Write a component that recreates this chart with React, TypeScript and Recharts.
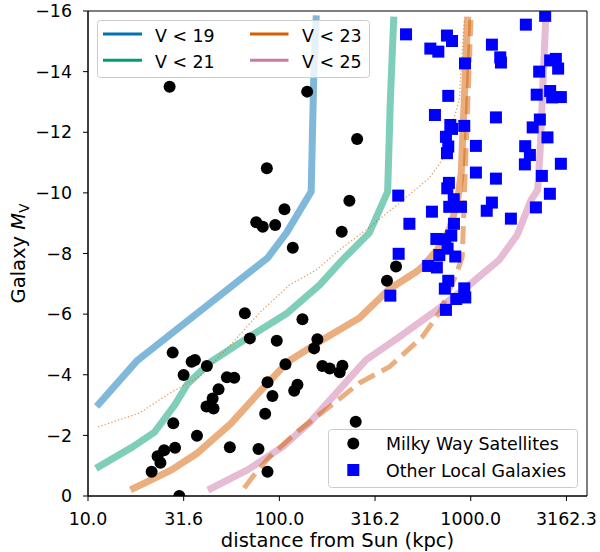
import React from 'react';
import { ComposedChart, Line, Scatter, XAxis, YAxis, ReferenceArea } from 'recharts';

const FONT = '"DejaVu Sans", sans-serif';
const FS = 17.4;
const LFS = 19.5;

// x ticks (kpc, log scale) and y ticks (M_V)
const xTicks = [10, 31.6228, 100, 316.228, 1000, 3162.28];
const yTicks = [0, -2, -4, -6, -8, -10, -12, -14, -16];

// detection limit curves: [distance kpc, M_V]
const v19: [number, number][] = [
  [11.41, -3.04], [17.96, -4.45], [72.4, -7.46], [86.7, -7.85], [108.9, -8.68],
  [146.6, -10.04], [151.2, -13.83], [155.6, -15.74],
];
const v21: [number, number][] = [
  [11.41, -0.97], [17.12, -1.62], [22.29, -2.11], [28.35, -3.0], [33.14, -3.7],
  [43.7, -4.42], [65.7, -5.15], [110.2, -6.04], [162.0, -6.96], [213.5, -7.79],
  [295.3, -8.68], [367.9, -10.04], [380.1, -13.07], [395.5, -15.7],
];
const v23: [number, number][] = [
  [17.32, -0.25], [27.35, -0.86], [37.36, -1.42], [55.57, -2.38], [80.6, -3.5],
  [110.2, -4.42], [163.9, -5.11], [261.9, -5.87], [375.5, -6.83], [517.6, -7.39],
  [558.4, -7.56], [668.7, -8.12], [772.2, -8.78], [850.3, -9.67], [892.1, -10.66],
  [962.3, -15.7],
];
const v23Dashed: [number, number][] = [
  [65.5, -0.26], [72.4, -0.63], [88.8, -1.29], [127.3, -2.18], [182.6, -2.94],
  [261.9, -3.73], [375.5, -4.26], [558.4, -5.25], [684.9, -6.04], [837.3, -7.29],
  [902.9, -7.89], [936.1, -10.76], [1002, -15.7],
];
const v23Dotted: [number, number][] = [
  [11.28, -2.28], [18.61, -2.74], [26.69, -3.39], [38.28, -3.94], [54.9, -4.95],
  [78.7, -6.04], [112.9, -6.96], [156.2, -7.46], [206.0, -8.12], [283.8, -8.78],
  [423.5, -9.66], [607.3, -10.49], [709.9, -11.09], [871, -13.07], [925, -15.7],
];
const v25: [number, number][] = [
  [43.95, -0.25], [68.2, -0.86], [103.8, -1.62], [143.6, -2.41], [198.6, -3.4],
  [283.8, -4.49], [423.5, -5.25], [684.9, -6.2], [982, -6.96], [1408, -7.79],
  [1748, -8.61], [2069, -9.77], [2237, -10.1], [2305, -11.42], [2462, -15.7],
];

// Milky Way satellites: [distance kpc, M_V]
const milkyWay: [number, number][] = [
  [66.0, -6.03], [132.0, -5.83], [70.1, -5.2], [96.9, -5.12], [158.0, -5.17], [151.9, -4.87],
  [27.7, -4.73], [34.8, -4.43], [36.2, -4.49], [41.8, -4.29], [31.6, -3.99], [107.6, -4.35],
  [167.8, -4.29], [183.2, -4.21], [206.6, -4.08], [213.5, -4.3], [53.2, -3.92], [58.1, -3.9],
  [86.7, -3.75], [48.1, -3.52], [92.0, -3.3], [124.3, -3.67], [119.5, -3.47], [44.8, -3.22],
  [41.6, -2.95], [45.3, -2.89], [84.3, -2.71], [27.9, -2.4], [250.5, -2.45], [37.1, -1.99],
  [25.0, -1.51], [28.5, -1.59], [23.1, -1.31], [23.9, -1.1], [55.1, -1.61], [77.8, -1.55],
  [21.5, -0.8], [86.7, -0.8], [30.0, 0.0],
  [26.7, -13.5], [139.7, -13.34], [254.8, -11.78], [86.0, -10.81], [232.2, -9.74],
  [106.3, -9.46], [75.7, -9.03], [81.9, -8.88], [95.1, -8.94], [211.7, -8.72],
  [117.5, -8.19], [407, -7.57], [365, -7.1],
];

// Other Local Group galaxies: [distance kpc, M_V]
const otherGalaxies: [number, number][] = [
  [459, -15.23], [751, -15.19], [798, -15.01], [615, -14.76], [677, -14.66], [933, -14.27],
  [1290, -14.89], [1426, -14.47], [1438, -14.3], [1941, -15.55], [2448, -15.84], [2600, -14.37],
  [2784, -14.42], [2862, -14.1], [2278, -14.0], [763, -13.2], [2211, -13.24], [2600, -13.36],
  [2663, -13.15], [2957, -13.16], [650, -12.57], [1354, -12.49], [782, -12.24], [798, -12.11],
  [925, -12.21], [2297, -12.42], [2107, -12.16], [742, -11.85], [763, -11.53], [751, -11.31],
  [1064, -11.55], [2517, -11.83], [1925, -11.54], [2037, -11.25], [1918, -10.94], [2957, -10.96],
  [1064, -10.67], [1354, -10.47], [2353, -10.56], [418, -9.91], [769, -10.33], [754, -10.15],
  [815, -9.79], [772, -9.54], [889, -9.54], [2591, -9.97], [1290, -9.68], [1212, -9.41],
  [2190, -9.52], [627, -9.38], [1621, -9.15], [478, -8.98], [817, -8.98], [791, -8.59],
  [661, -8.48], [736, -8.47], [420, -7.99], [685, -7.95], [757, -8.16], [830, -7.9],
  [599, -7.59], [665, -7.54], [763, -7.1], [732, -6.84], [925, -6.85], [936, -6.55],
  [840, -6.5], [742, -6.14], [380, -6.61],
];

const toObj = (arr: [number, number][]) => arr.map(([d, m]) => ({ d, m }));

const BLUE = '#0072B2';
const GREEN = '#009E73';
const ORANGE = '#D55E00';
const PINK = '#CC79A7';

const fmtY = (v: number) => (v === 0 ? '0' : (v < 0 ? '\u2212' : '') + Math.abs(v));
const fmtX = (v: number) => v.toFixed(1);

const Circle = (p: any) => <circle cx={p.cx} cy={p.cy} r={6} fill="#000" />;
const Square = (p: any) => <rect x={p.cx - 6} y={p.cy - 6} width={12} height={12} fill="#0000FF" />;

const curveProps = {
  type: 'linear' as const,
  dataKey: 'm',
  dot: false,
  activeDot: false,
  isAnimationActive: false,
  strokeOpacity: 0.5,
  strokeLinejoin: 'round' as const,
};

export default function App() {
  return (
    <div style={{ position: 'absolute', left: 0, top: 0, width: 600, height: 552, background: '#fff', fontFamily: FONT }}>
      <ComposedChart width={600} height={552} margin={{ top: 11, right: 13, bottom: 0, left: 0 }}>
        <defs>
          <clipPath id="plotClip">
            <rect x={88} y={11} width={499} height={485} />
          </clipPath>
        </defs>
        <XAxis
          type="number"
          dataKey="d"
          scale="log"
          domain={[10, 4050]}
          allowDataOverflow
          ticks={xTicks}
          interval={0}
          tickFormatter={fmtX}
          height={56}
          tickSize={5}
          tickMargin={11.5}
          stroke="#000"
          tick={{ fill: '#000', fontSize: FS, fontFamily: FONT }}
          label={{ value: 'distance from Sun (kpc)', position: 'insideBottom', offset: 5, fill: '#000', fontSize: LFS, fontFamily: FONT }}
        />
        <YAxis
          type="number"
          dataKey="m"
          domain={[-16, 0]}
          reversed
          allowDataOverflow
          ticks={yTicks}
          interval={0}
          tickFormatter={fmtY}
          width={88}
          tickSize={5}
          tickMargin={11}
          stroke="#000"
          tick={{ fill: '#000', fontSize: FS, fontFamily: FONT }}
        />
        <ReferenceArea x1={10} x2={4050} y1={-16} y2={0} fill="none" stroke="#000" strokeWidth={1} />
        <Line {...curveProps} data={toObj(v19)} stroke={BLUE} strokeWidth={7} strokeLinecap="square" />
        <Line {...curveProps} data={toObj(v21)} stroke={GREEN} strokeWidth={7} strokeLinecap="square" />
        <Line {...curveProps} data={toObj(v23)} stroke={ORANGE} strokeWidth={7} strokeLinecap="square" />
        <Line {...curveProps} data={toObj(v25)} stroke={PINK} strokeWidth={7} strokeLinecap="square" />
        <Line {...curveProps} data={toObj(v23Dashed)} stroke={ORANGE} strokeWidth={5} strokeDasharray="18 8" strokeLinecap="butt" />
        <Line {...curveProps} data={toObj(v23Dotted)} stroke={ORANGE} strokeWidth={1.3} strokeDasharray="1.3 2.2" strokeOpacity={0.6} />
        <Scatter data={toObj(milkyWay)} dataKey="m" shape={(p: any) => <g clipPath="url(#plotClip)"><Circle {...p} /></g>} isAnimationActive={false} />
        <Scatter data={toObj(otherGalaxies)} dataKey="m" shape={(p: any) => <g clipPath="url(#plotClip)"><Square {...p} /></g>} isAnimationActive={false} />
      </ComposedChart>
      <svg width={600} height={552} style={{ position: 'absolute', left: 0, top: 0, pointerEvents: 'none' }} fontFamily={FONT}>
        <text transform="translate(25,253.5) rotate(-90)" textAnchor="middle" fontSize={LFS} fill="#000">
          <tspan>Galaxy </tspan>
          <tspan fontStyle="italic">M</tspan>
          <tspan fontSize={13.5} dy={3.5}>V</tspan>
        </text>
        {/* upper legend */}
        <rect x={97.5} y={20.5} width={272} height={57} rx={3} fill="#fff" fillOpacity={0.8} stroke="#cccccc" />
        <line x1={103} x2={142} y1={34} y2={34} stroke={BLUE} strokeWidth={3} />
        <line x1={103} x2={142} y1={60.3} y2={60.3} stroke={GREEN} strokeWidth={3} />
        <line x1={250} x2={288.5} y1={34} y2={34} stroke={ORANGE} strokeWidth={3} />
        <line x1={250} x2={288.5} y1={60.3} y2={60.3} stroke={PINK} strokeWidth={3} />
        <text x={155} y={41.5} fontSize={FS} fill="#000">{'V < 19'}</text>
        <text x={155} y={67.8} fontSize={FS} fill="#000">{'V < 21'}</text>
        <text x={302} y={41.5} fontSize={FS} fill="#000">{'V < 23'}</text>
        <text x={302} y={67.8} fontSize={FS} fill="#000">{'V < 25'}</text>
        {/* lower legend */}
        <rect x={328.5} y={429.5} width={249} height={58} rx={3} fill="#fff" fillOpacity={0.8} stroke="#cccccc" />
        <circle cx={353.3} cy={443.5} r={6} fill="#000" />
        <rect x={347.3} y={464} width={12} height={12} fill="#0000FF" />
        <text x={386} y={450} fontSize={FS} fill="#000">Milky Way Satellites</text>
        <text x={386} y={476.5} fontSize={FS} fill="#000">Other Local Galaxies</text>
      </svg>
    </div>
  );
}
